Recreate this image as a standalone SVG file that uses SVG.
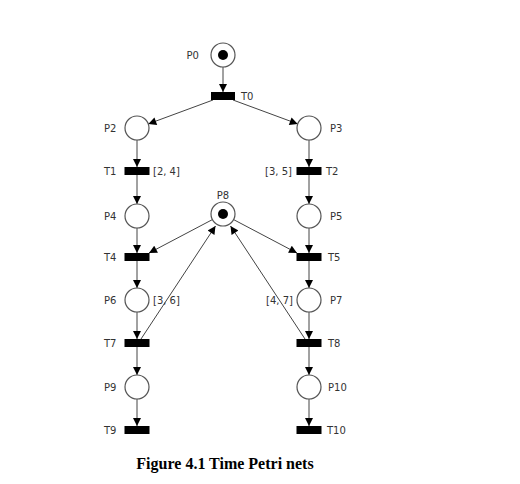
<svg xmlns="http://www.w3.org/2000/svg" width="520" height="484" viewBox="0 0 520 484">
<style>
.pl{fill:#fff;stroke:#555;stroke-width:1.2}
.tk{fill:#000}
.tr{fill:#000}
.lb{font-family:"DejaVu Sans",Tahoma,sans-serif;font-size:10px;fill:#333}
.ar{stroke:#444;stroke-width:1;fill:none;marker-end:url(#ah)}
.cap{font-family:"Liberation Serif","Times New Roman",serif;font-size:16px;font-weight:bold;fill:#000}
</style>
<defs>
<marker id="ah" viewBox="0 0 10 10" refX="10" refY="5" markerWidth="9" markerHeight="8" markerUnits="userSpaceOnUse" orient="auto"><path d="M0,0 L10,5 L0,10 z" fill="#000"/></marker>
</defs>
<rect width="520" height="484" fill="#fff"/>
<g id="connectors">
<line class="ar" x1="223" y1="67" x2="223" y2="92"/>
<line class="ar" x1="213" y1="100" x2="148.3" y2="123.9"/>
<line class="ar" x1="233" y1="100" x2="297.7" y2="123.9"/>
<line class="ar" x1="137" y1="140" x2="137" y2="167"/>
<line class="ar" x1="137" y1="175" x2="137" y2="204"/>
<line class="ar" x1="137" y1="228" x2="137" y2="253"/>
<line class="ar" x1="137" y1="261" x2="137" y2="288"/>
<line class="ar" x1="137" y1="312" x2="137" y2="339"/>
<line class="ar" x1="137" y1="347" x2="137" y2="375"/>
<line class="ar" x1="137" y1="399" x2="137" y2="426"/>
<line class="ar" x1="309" y1="140" x2="309" y2="167"/>
<line class="ar" x1="309" y1="175" x2="309" y2="204"/>
<line class="ar" x1="309" y1="228" x2="309" y2="253"/>
<line class="ar" x1="309" y1="261" x2="309" y2="288"/>
<line class="ar" x1="309" y1="312" x2="309" y2="339"/>
<line class="ar" x1="309" y1="347" x2="309" y2="375"/>
<line class="ar" x1="309" y1="399" x2="309" y2="426"/>
<line class="ar" x1="212.4" y1="219.6" x2="149" y2="253"/>
<line class="ar" x1="233.6" y1="219.6" x2="297" y2="253"/>
<line class="ar" x1="141" y1="339" x2="215.5" y2="226"/>
<line class="ar" x1="305" y1="339" x2="230.5" y2="226"/>
</g>
<g id="P0"><circle class="pl" cx="223" cy="55" r="12"/><circle class="tk" cx="223" cy="55" r="5"/><text class="lb" x="199" y="58.5" text-anchor="end">P0</text></g>
<g id="T0"><rect class="tr" x="211" y="92" width="24" height="8"/><text class="lb" x="241" y="99.5">T0</text></g>
<g id="P2"><circle class="pl" cx="137" cy="128" r="12"/><text class="lb" x="104" y="131.5">P2</text></g>
<g id="P3"><circle class="pl" cx="309" cy="128" r="12"/><text class="lb" x="330" y="131.5">P3</text></g>
<g id="T1"><rect class="tr" x="124.5" y="167" width="25" height="8"/><text class="lb" x="104" y="174.5">T1</text><text class="lb" x="153" y="174.5">[2, 4]</text></g>
<g id="T2"><rect class="tr" x="296.5" y="167" width="25" height="8"/><text class="lb" x="326" y="174.5">T2</text><text class="lb" x="292" y="174.5" text-anchor="end">[3, 5]</text></g>
<g id="P4"><circle class="pl" cx="137" cy="216" r="12"/><text class="lb" x="104" y="219.5">P4</text></g>
<g id="P8"><circle class="pl" cx="223" cy="214" r="12"/><circle class="tk" cx="223" cy="214" r="5"/><text class="lb" x="223" y="199" text-anchor="middle">P8</text></g>
<g id="P5"><circle class="pl" cx="309" cy="216" r="12"/><text class="lb" x="330" y="219.5">P5</text></g>
<g id="T4"><rect class="tr" x="124.5" y="253" width="25" height="8"/><text class="lb" x="104" y="260.5">T4</text></g>
<g id="T5"><rect class="tr" x="296.5" y="253" width="25" height="8"/><text class="lb" x="328" y="260.5">T5</text></g>
<g id="P6"><circle class="pl" cx="137" cy="300" r="12"/><text class="lb" x="104" y="303.5">P6</text><text class="lb" x="153" y="303.5">[3, 6]</text></g>
<g id="P7"><circle class="pl" cx="309" cy="300" r="12"/><text class="lb" x="330" y="303.5">P7</text><text class="lb" x="293" y="303.5" text-anchor="end">[4, 7]</text></g>
<g id="T7"><rect class="tr" x="124.5" y="339" width="25" height="8"/><text class="lb" x="104" y="346.5">T7</text></g>
<g id="T8"><rect class="tr" x="296.5" y="339" width="25" height="8"/><text class="lb" x="328" y="346.5">T8</text></g>
<g id="P9"><circle class="pl" cx="137" cy="387" r="12"/><text class="lb" x="104" y="390.5">P9</text></g>
<g id="P10"><circle class="pl" cx="309" cy="387" r="12"/><text class="lb" x="328" y="390.5">P10</text></g>
<g id="T9"><rect class="tr" x="124.5" y="426" width="25" height="8"/><text class="lb" x="104" y="433.5">T9</text></g>
<g id="T10"><rect class="tr" x="296.5" y="426" width="25" height="8"/><text class="lb" x="327" y="433.5">T10</text></g>
<text class="cap" x="225" y="469" text-anchor="middle">Figure 4.1 Time Petri nets</text>
</svg>
